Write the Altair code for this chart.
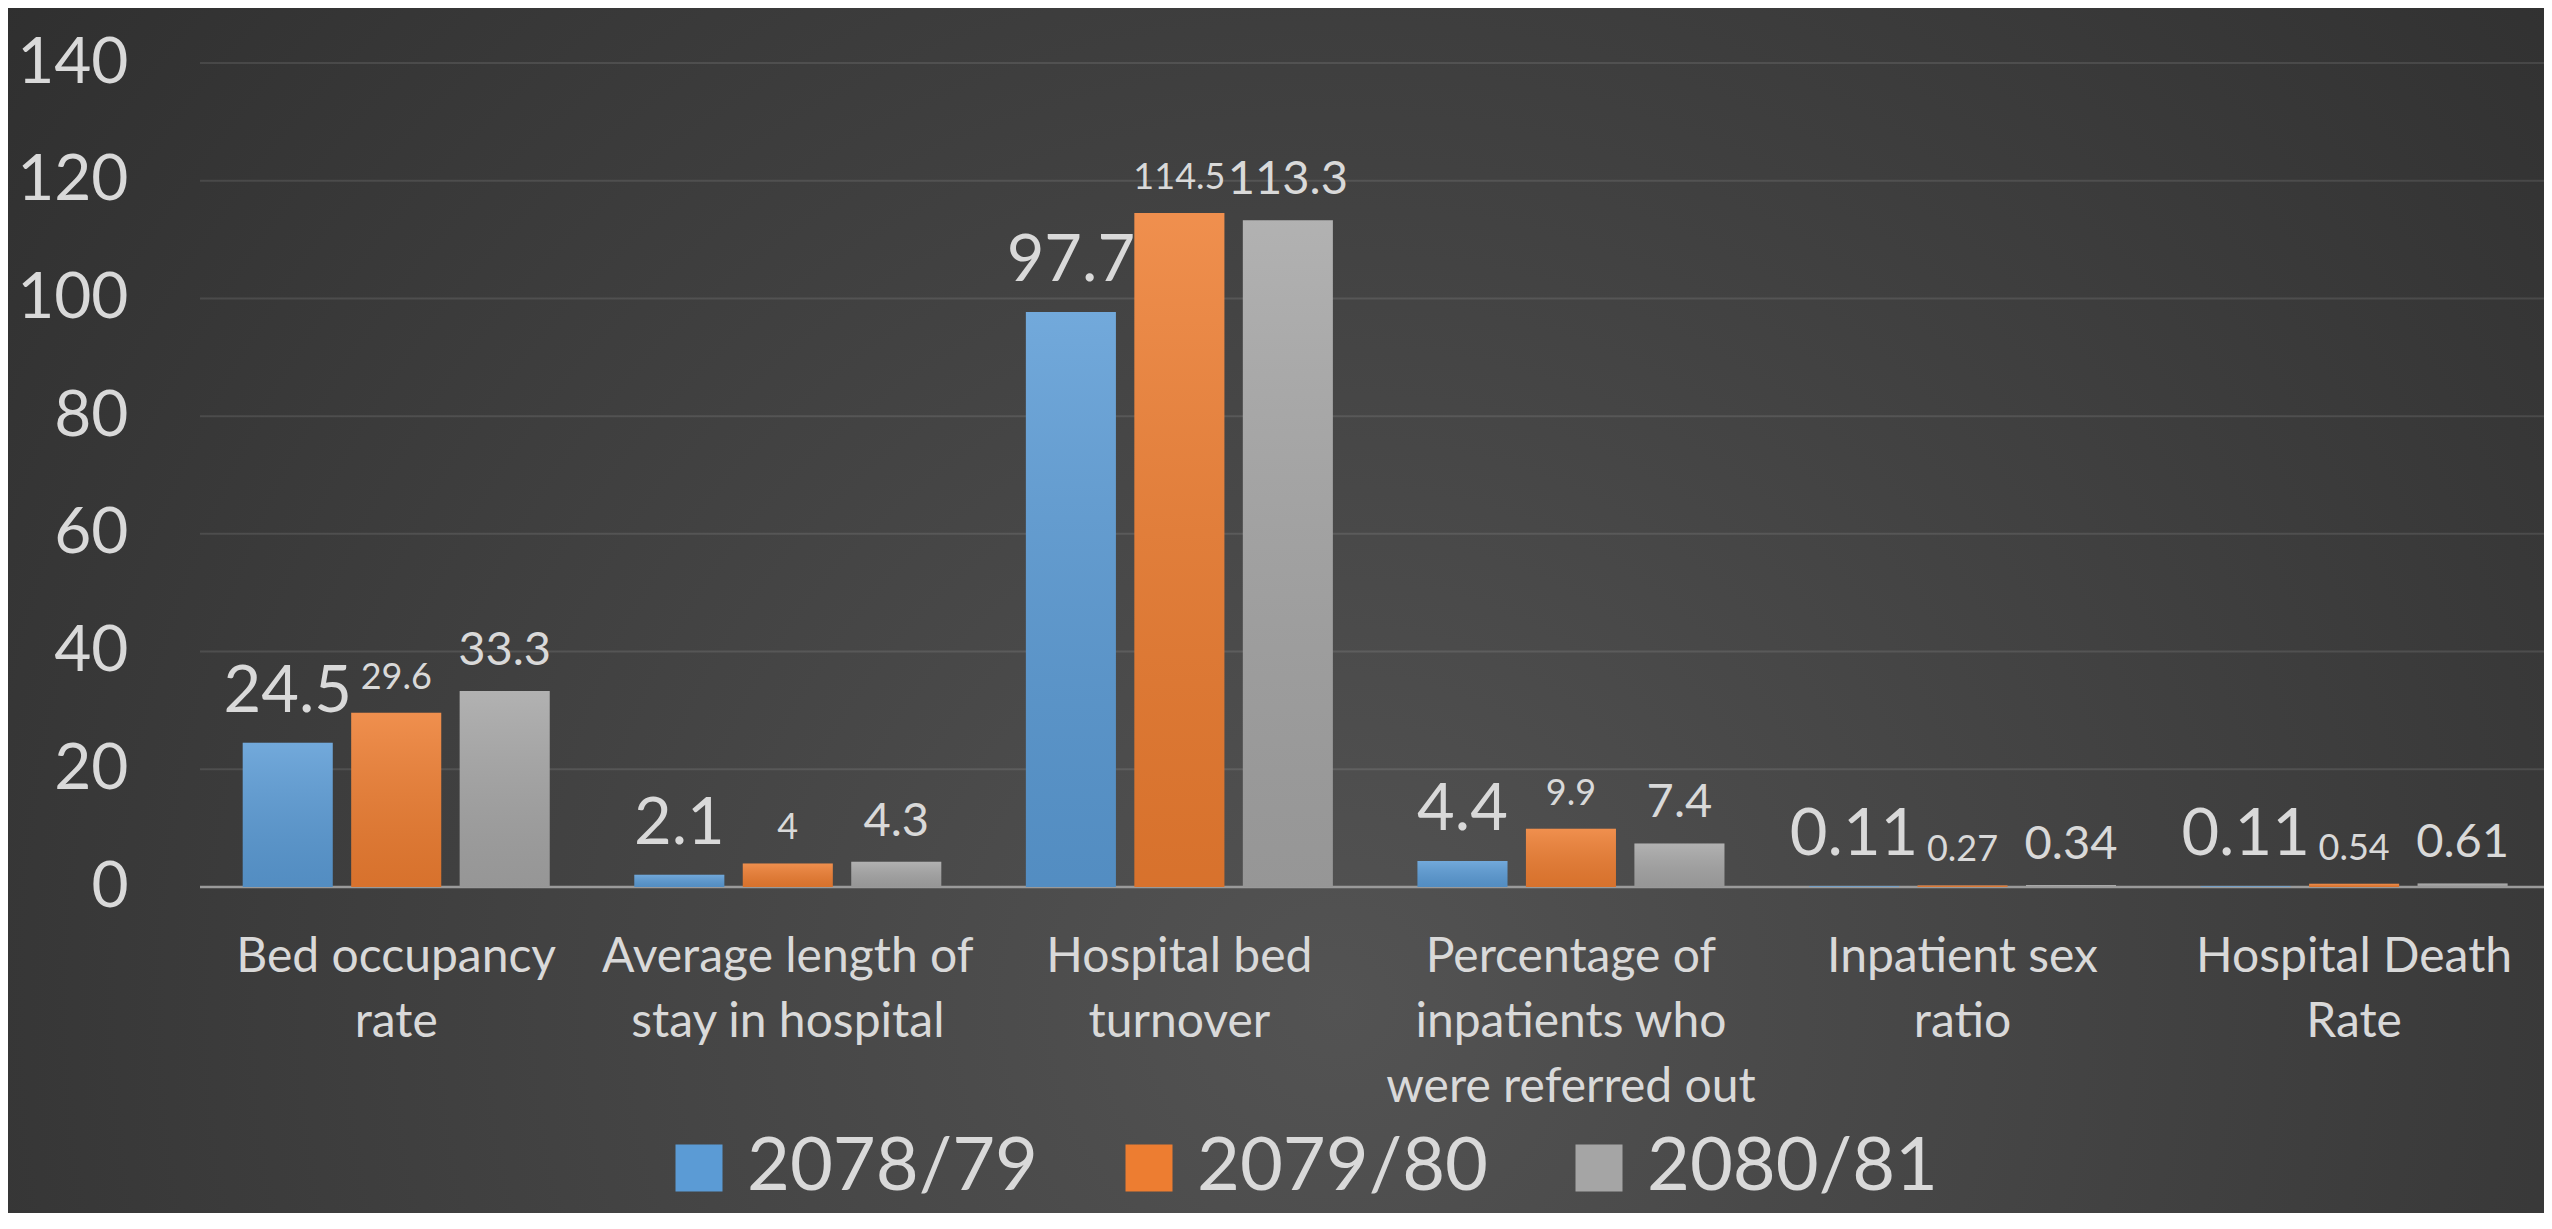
import altair as alt
import pandas as pd

categories = [
    "Bed occupancy|rate",
    "Average length of|stay in hospital",
    "Hospital bed|turnover",
    "Percentage of|inpatients who|were referred out",
    "Inpatient sex|ratio",
    "Hospital Death|Rate",
]
series = ["2078/79", "2079/80", "2080/81"]
values_2078 = [24.5, 2.1, 97.7, 4.4, 0.11, 0.11]
values_2079 = [29.6, 4, 114.5, 9.9, 0.27, 0.54]
values_2080 = [33.3, 4.3, 113.3, 7.4, 0.34, 0.61]
y_ticks = [0, 20, 40, 60, 80, 100, 120, 140]
colors = ["#5b9bd5", "#ed7d31", "#a5a5a5"]

rows = []
for s, vals in zip(series, [values_2078, values_2079, values_2080]):
    for c, v in zip(categories, vals):
        rows.append({"cat": c, "series": s, "value": v, "label": str(v)})
df = pd.DataFrame(rows)
grid_df = pd.DataFrame({"tick": y_ticks[1:]})
base_df = pd.DataFrame({"tick": y_ticks[:1]})

W, H = 2344, 824
PAD = {"left": 192, "top": 55, "right": 0, "bottom": 326}
FONT = "Lato"
TXT = "#d9d9d9"

x_enc = alt.X(
    "cat:N", sort=categories,
    scale=alt.Scale(paddingInner=0.216, paddingOuter=0.101, align=0.54),
    axis=alt.Axis(title=None, labelExpr="split(datum.label, '|')", labelAngle=0,
                  labelFontSize=48, labelLineHeight=65, labelPadding=46, labelLimit=600,
                  labelColor=TXT, labelFont=FONT, ticks=False, domain=False, zindex=1),
)
xo_enc = alt.XOffset("series:N", sort=series, scale=alt.Scale(paddingInner=0.17, paddingOuter=0))
y_axis = alt.Axis(title=None, values=y_ticks, grid=False, domain=False, ticks=False,
                  labelFontSize=64, labelPadding=72, labelColor=TXT, labelFont=FONT, zindex=1)
y_scale = alt.Scale(domain=[0, 140], nice=False)

bg = alt.Chart(pd.DataFrame({"a": [0]})).mark_rect(
    fill=alt.RadialGradient(
        gradient="radial", x1=0.52, y1=0.65, r1=0, x2=0.52, y2=0.65, r2=0.75,
        stops=[alt.GradientStop(offset=0, color="#535353"),
               alt.GradientStop(offset=1, color="#2a2a2a")]),
).encode(
    x=alt.value(-PAD["left"]), x2=alt.value(W + 20),
    y=alt.value(-PAD["top"]), y2=alt.value(H + PAD["bottom"] + 20),
)

grid = alt.Chart(grid_df).mark_rule(color="#ffffff", opacity=0.1, strokeWidth=2).encode(
    y=alt.Y("tick:Q", scale=y_scale, axis=y_axis),
    x=alt.value(0), x2=alt.value(W),
)

baseline = alt.Chart(base_df).mark_rule(color="#9a9a9a", strokeWidth=2.5).encode(
    y=alt.Y("tick:Q", scale=y_scale, axis=y_axis),
    x=alt.value(0), x2=alt.value(W),
)

bars = alt.Chart(df).mark_bar().encode(
    x=x_enc, xOffset=xo_enc,
    y=alt.Y("value:Q", scale=y_scale, axis=y_axis),
    color=alt.Color("series:N", sort=series,
                    scale=alt.Scale(domain=series, range=colors),
                    legend=alt.Legend(title=None, orient="none", legendX=462, legendY=1068,
                                      direction="horizontal", columns=3, symbolType="square",
                                      symbolSize=2209, symbolStrokeWidth=0, symbolOpacity=1,
                                      labelFontSize=74, labelColor=TXT, labelFont=FONT,
                                      labelOffset=11, labelLimit=600, columnPadding=74,
                                      padding=0)),
)

overlay = alt.Chart(df).mark_bar(
    fill=alt.LinearGradient(
        gradient="linear", x1=0, y1=0, x2=0, y2=1,
        stops=[alt.GradientStop(offset=0, color="rgba(255,255,255,0.14)"),
               alt.GradientStop(offset=1, color="rgba(0,0,0,0.09)")]),
).encode(x=x_enc, xOffset=xo_enc, y=alt.Y("value:Q", scale=y_scale, axis=y_axis))

label_specs = [(series[0], 65, -31), (series[1], 36, -24), (series[2], 47, -26)]
texts = []
for s, fs, dy in label_specs:
    texts.append(
        alt.Chart(df).transform_filter(alt.datum.series == s).mark_text(
            fontSize=fs, dy=dy, baseline="alphabetic", align="center", color=TXT, font=FONT,
        ).encode(x=x_enc, xOffset=xo_enc,
                 y=alt.Y("value:Q", scale=y_scale, axis=y_axis), text="label:N")
    )

chart = alt.layer(bg, grid, baseline, bars, overlay, *texts).properties(
    width=W, height=H, padding=PAD,
    autosize=alt.AutoSizeParams(type="none"),
).configure(font=FONT, background="#2e2e2e").configure_view(stroke=None)

chart.save("out.html", embed_options={"renderer": "svg", "actions": False})
